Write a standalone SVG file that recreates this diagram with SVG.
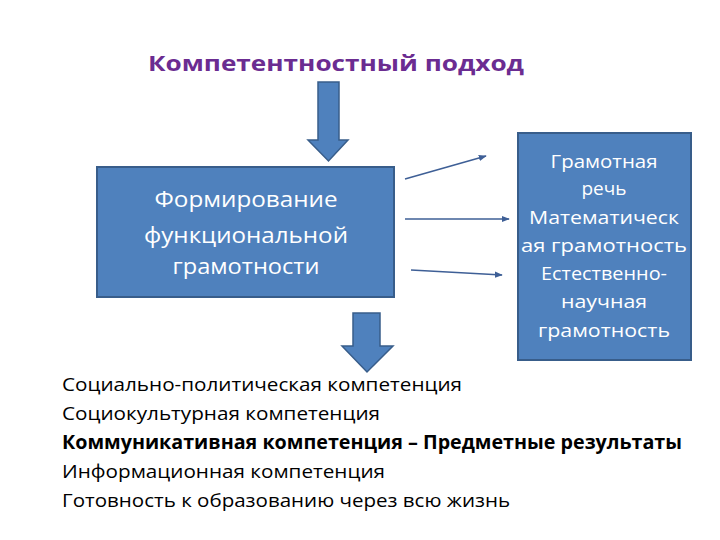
<svg xmlns="http://www.w3.org/2000/svg" width="720" height="540" viewBox="0 0 720 540">
<defs>
<style>
.box{fill:#4F81BD;stroke:#385D8A;stroke-width:2}
.blk{fill:#4F81BD;stroke:#385D8A;stroke-width:1.5}
.wt{fill:#FFFFFF;font-family:"Open Sans","Liberation Sans",sans-serif;text-anchor:middle}
.lt{fill:#000000;font-family:"Open Sans","Liberation Sans",sans-serif;font-size:19px}
.conn{stroke:#3E5F96;stroke-width:1.6;fill:none;marker-end:url(#ah)}
</style>
<marker id="ah" viewBox="0 0 10 10" refX="9" refY="5" markerWidth="5" markerHeight="5" orient="auto" markerUnits="strokeWidth">
<path d="M0,1 L10,5 L0,9 z" fill="#3E5F96"/>
</marker>
</defs>
<rect width="720" height="540" fill="#FFFFFF"/>
<g id="title">
<text x="336" y="71" font-family="'Open Sans','Liberation Sans',sans-serif" font-weight="bold" font-size="22" fill="#6B2C91" text-anchor="middle" textLength="376" lengthAdjust="spacingAndGlyphs">Компетентностный подход</text>
</g>
<g id="arrow-top">
<path class="blk" d="M318,82 L339,82 L339,140 L348,140 L328.5,161 L308,140 L318,140 Z"/>
</g>
<g id="node-formation">
<rect class="box" x="97" y="167" width="297" height="130"/>
<text class="wt" x="246" y="207" font-size="22" textLength="183" lengthAdjust="spacingAndGlyphs">Формирование</text>
<text class="wt" x="246" y="243" font-size="22" textLength="204" lengthAdjust="spacingAndGlyphs">функциональной</text>
<text class="wt" x="246" y="274" font-size="22" textLength="147" lengthAdjust="spacingAndGlyphs">грамотности</text>
</g>
<g id="node-literacy">
<rect class="box" x="518" y="133" width="173" height="227"/>
<text class="wt" x="604" y="168" font-size="19" textLength="107" lengthAdjust="spacingAndGlyphs">Грамотная</text>
<text class="wt" x="604" y="195" font-size="19">речь</text>
<text class="wt" x="604" y="224" font-size="19" textLength="150" lengthAdjust="spacingAndGlyphs">Математическ</text>
<text class="wt" x="604" y="252" font-size="19" textLength="166" lengthAdjust="spacingAndGlyphs">ая грамотность</text>
<text class="wt" x="604" y="280" font-size="19" textLength="126" lengthAdjust="spacingAndGlyphs">Естественно-</text>
<text class="wt" x="604" y="308" font-size="19" textLength="86" lengthAdjust="spacingAndGlyphs">научная</text>
<text class="wt" x="604" y="337" font-size="19" textLength="132" lengthAdjust="spacingAndGlyphs">грамотность</text>
</g>
<g id="connectors">
<line class="conn" x1="405" y1="179" x2="486" y2="156"/>
<line class="conn" x1="405" y1="219" x2="509" y2="219"/>
<line class="conn" x1="411" y1="270" x2="502" y2="275"/>
</g>
<g id="arrow-bottom">
<path class="blk" d="M353,313 L380,313 L380,346 L393,346 L367,372 L342,346 L353,346 Z"/>
</g>
<g id="competences">
<text class="lt" x="62" y="391" textLength="400" lengthAdjust="spacingAndGlyphs">Социально-политическая компетенция</text>
<text class="lt" x="62" y="420" textLength="318" lengthAdjust="spacingAndGlyphs">Социокультурная компетенция</text>
<text class="lt" x="62" y="449" font-weight="bold" textLength="620" lengthAdjust="spacingAndGlyphs">Коммуникативная компетенция – Предметные результаты</text>
<text class="lt" x="62" y="478" textLength="323" lengthAdjust="spacingAndGlyphs">Информационная компетенция</text>
<text class="lt" x="62" y="507" textLength="448" lengthAdjust="spacingAndGlyphs">Готовность к образованию через всю жизнь</text>
</g>
</svg>
